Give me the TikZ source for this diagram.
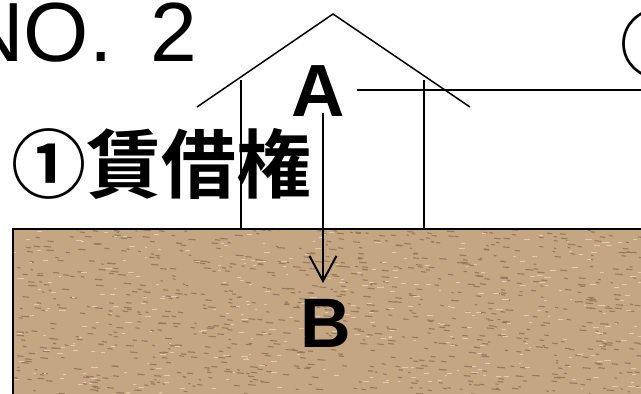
\documentclass[tikz,border=0pt]{standalone}
\usepackage{fontspec}
\setmainfont{Liberation Sans}
\newfontfamily\jpbold{Noto Sans CJK JP}[BoldFont={* Bold}]
\usetikzlibrary{arrows.meta}
\definecolor{sand}{RGB}{196,166,130}
\definecolor{sanddark}{RGB}{110,86,62}
\definecolor{sandlight}{RGB}{222,204,176}
\tikzset{
  thinline/.style={line width=1.5pt},
  boldline/.style={line width=2.6pt},
  label/.style={inner sep=0pt, font=\bfseries},
}
\begin{document}
\begin{tikzpicture}[x=1pt,y=-1pt]
\useasboundingbox (0,0) rectangle (641,394);
% ground block with a sandy texture
\fill[sand] (13,229) rectangle (660,400);
\begin{scope}
  \clip (13,229) rectangle (660,400);
  \pgfmathsetseed{11}
  \foreach \i in {1,...,900}{
    \pgfmathsetmacro{\px}{13+rnd*630}
    \pgfmathsetmacro{\py}{229+rnd*170}
    \pgfmathsetmacro{\pl}{2+rnd*6}
    \draw[sanddark!55!sand, line width=1.1pt] (\px,\py) -- ++(\pl,0.6);
  }
  \foreach \i in {1,...,350}{
    \pgfmathsetmacro{\px}{13+rnd*630}
    \pgfmathsetmacro{\py}{229+rnd*170}
    \pgfmathsetmacro{\pl}{2+rnd*5}
    \draw[sandlight, line width=0.9pt] (\px,\py) -- ++(\pl,0);
  }
\end{scope}
\draw[boldline] (660,229) -- (13,229) -- (13,400);
% house outline
\coordinate (apex) at (333,14);
\coordinate (eaveL) at (197,107);
\coordinate (eaveR) at (470,107);
\coordinate (wallLt) at (241,80);
\coordinate (wallLb) at (241,229);
\coordinate (wallRt) at (424,80);
\coordinate (wallRb) at (424,229);
\draw[thinline] (eaveL) -- (apex) -- (eaveR);
\draw[thinline] (wallLt) -- (wallLb);
\draw[thinline] (wallRt) -- (wallRb);
% titles
\node[inner sep=0pt, anchor=base west, font=\fontsize{84}{84}\selectfont] (title) at (-37,61) {NO.\hspace{38pt}2};
\node[inner sep=0pt, anchor=base west, font=\jpbold\bfseries\fontsize{75}{75}\selectfont] (kind1) at (11,192) {①賃借権};
\node[inner sep=0pt, anchor=base west, font=\jpbold\bfseries\fontsize{75}{75}\selectfont] (kind2) at (620,72) {②};
% labels and the arrow between them
\node[label, anchor=base, font=\bfseries\fontsize{74}{74}\selectfont] (A) at (318,116) {A};
\node[label, anchor=base, font=\bfseries\fontsize{70}{70}\selectfont] (B) at (326,347) {B};
\coordinate (lineL) at (357,90);
\coordinate (lineR) at (641,90);
\draw[boldline] (lineL) -- (lineR);
\coordinate (arrS) at (323,113);
\coordinate (arrE) at (323,283);
\draw[line width=2pt, -{Straight Barb[length=25pt,width=27pt,line width=2pt]}] (arrS) -- (arrE);
\end{tikzpicture}
\end{document}
